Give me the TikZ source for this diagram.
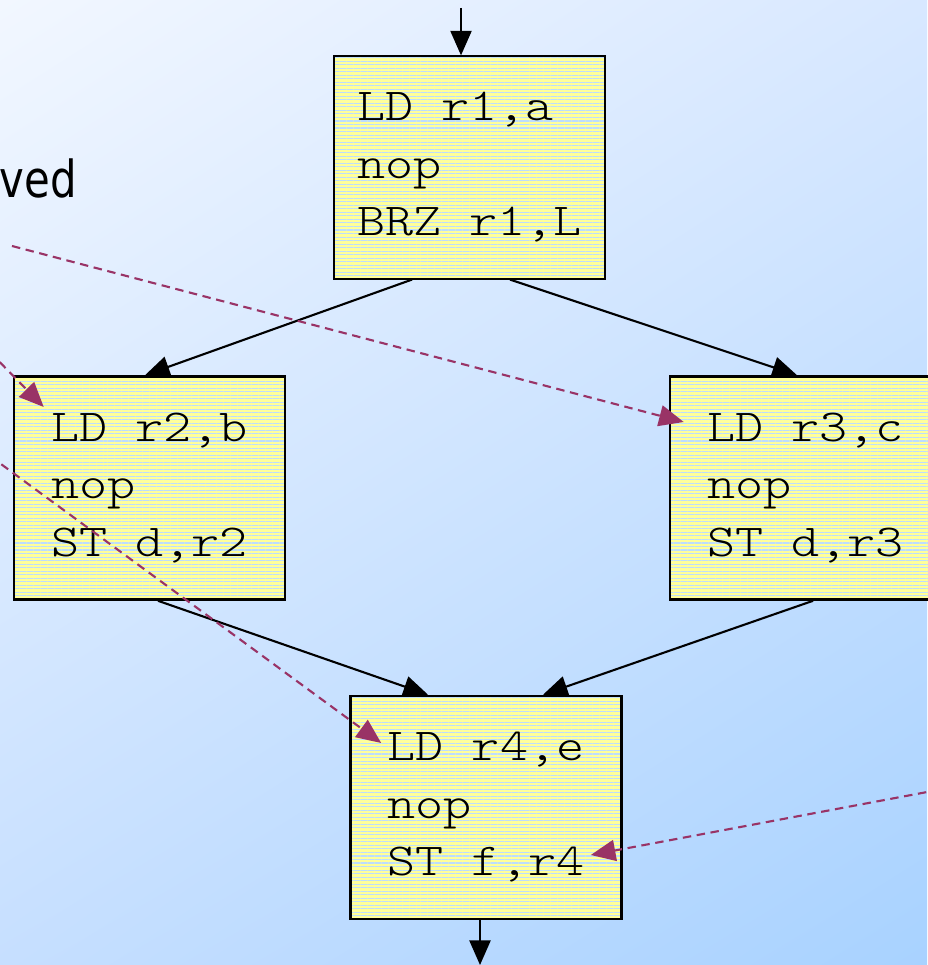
\documentclass[tikz,border=0pt]{standalone}
\usepackage{fontspec}
\newfontfamily\codefont[FakeStretch=1.17]{lmmonolt10-regular.otf}
\newfontfamily\notefont[FakeStretch=0.82]{DejaVu Sans}
\usetikzlibrary{arrows.meta,patterns.meta,calc,shadings}

\definecolor{bgtl}{HTML}{F2F7FF}
\definecolor{bgtr}{HTML}{D8E8FF}
\definecolor{bgbl}{HTML}{C6DFFF}
\definecolor{bgbr}{HTML}{A8D2FF}
\definecolor{padyellow}{HTML}{FFFF99}
\definecolor{padstripe}{HTML}{BCDDFF}
\definecolor{movecol}{HTML}{993366}

\begin{document}
\begin{tikzpicture}[x=0.01cm,y=-0.01cm,
  block/.style={draw,line width=0.7pt,preaction={fill=padyellow},
    pattern={Lines[angle=0,distance=1pt,line width=0.3pt]},pattern color=padstripe,
    minimum width=2.71cm,minimum height=2.23cm,inner sep=0pt,align=left,
    font=\codefont\fontsize{13}{16.35}\selectfont},
  flow/.style={-{Triangle[length=7pt,width=6pt]},line width=0.6pt},
  move/.style={-{Triangle[length=7pt,width=6pt]},draw=movecol,
    line width=0.6pt,dash pattern=on 2.4pt off 1.6pt}]

  % background
  \useasboundingbox (0,0) rectangle (927,965);
  \shade[upper left=bgtl,upper right=bgtr,lower left=bgbl,lower right=bgbr]
    (0,0) rectangle (927,965);

  \node[anchor=base west,inner sep=0pt,font=\notefont\fontsize{14.5}{17}\selectfont]
    (note) at (-1,198) {ved};

  % the four basic blocks
  \node[block] (b1) at (469.5,167.5) {LD r1,a\\nop\\BRZ r1,L};
  \node[block] (b2) at (149.5,488)   {LD r2,b\\nop\\ST d,r2};
  \node[block] (b3) at (805.5,488)   {LD r3,c\\nop\\ST d,r3};
  \node[block] (b4) at (486,807.5)   {LD r4,e\\nop\\ST f,r4};

  % control flow
  \coordinate (entry) at (461,8);
  \coordinate (exit) at (480,965);
  \draw[flow] (entry) -- ($(b1.north)+(-8.5,0)$);
  \draw[flow] ($(b1.south)+(-57.5,0)$) -- ($(b2.north)+(-4.5,0)$);
  \draw[flow] ($(b1.south)+(40.5,0)$) -- ($(b3.north)+(-8.5,0)$);
  \draw[flow] ($(b2.south)+(8.5,0)$) -- ($(b4.north)+(-58,0)$);
  \draw[flow] ($(b3.south)+(7.5,0)$) -- ($(b4.north)+(57,0)$);
  \draw[flow] ($(b4.south)+(-6,0)$) -- (exit);

  % moved instructions
  \coordinate (m1) at (12,246);
  \coordinate (m2) at (-20,342);
  \coordinate (m3) at (-10,456);
  \coordinate (m4) at (940,789.6);
  \draw[move] (m1) -- ($(b3.west)+(15,-66)$);
  \draw[move] (m2) -- ($(b2.west)+(31,-81)$);
  \draw[move] (m3) -- ($(b4.west)+(32,-64.5)$);
  \draw[move] (m4) -- ($(b4.east)+(-32,47.5)$);
\end{tikzpicture}
\end{document}
